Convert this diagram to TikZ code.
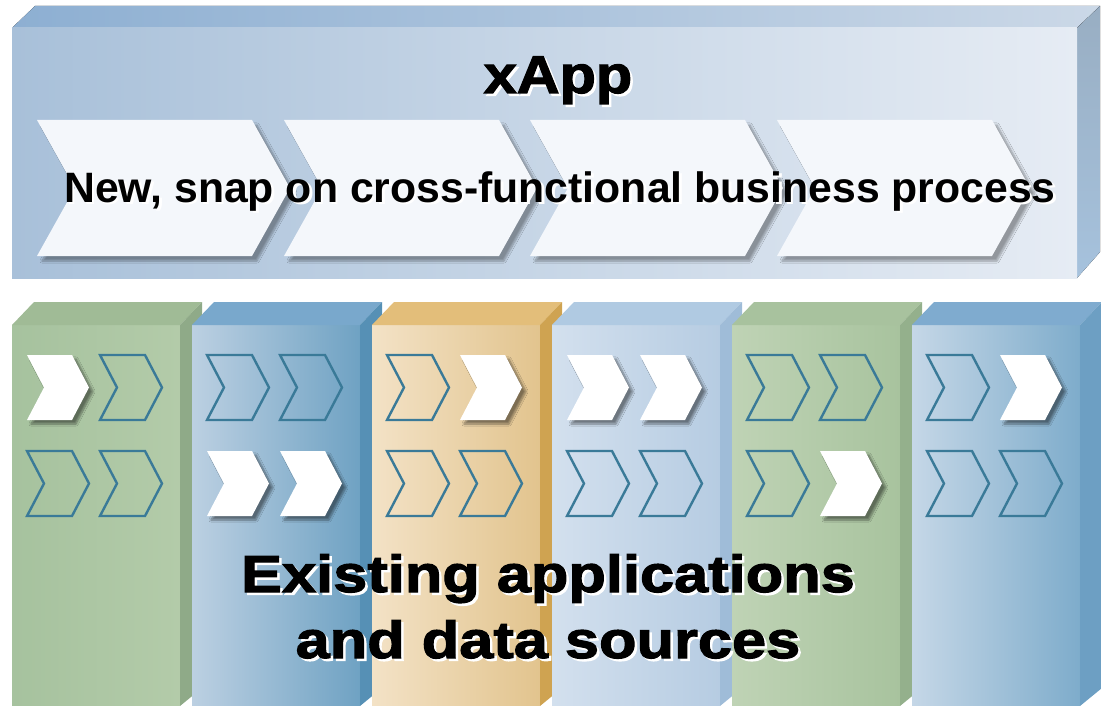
\documentclass[tikz,border=0pt]{standalone}
\usepackage{fontspec}
\setmainfont{Liberation Sans}
\newfontfamily\boldfont{Liberation Sans Bold}[FakeStretch=1.006]
\newfontfamily\heavyfont{Liberation Sans Bold}[FakeBold=2.2,FakeStretch=1.18]
\newfontfamily\heavyfontx{Liberation Sans Bold}[FakeBold=2.2,FakeStretch=1.12]
\usetikzlibrary{shadows.blur}
\definecolor{barL}{HTML}{A8C0D9}
\definecolor{barR}{HTML}{E6ECF4}
\definecolor{barTopL}{HTML}{8DAFD2}
\definecolor{barTopR}{HTML}{CBD8E7}
\definecolor{barSide}{HTML}{A6C2DD}
\definecolor{chevW}{HTML}{F4F7FB}
\definecolor{chevLine}{HTML}{3A7A98}
\definecolor{gFL}{HTML}{A6C29E}\definecolor{gFR}{HTML}{B3CBA9}\definecolor{gT}{HTML}{A0BB96}\definecolor{gS}{HTML}{8FAA88}
\definecolor{bFL}{HTML}{BCD0E2}\definecolor{bFR}{HTML}{6FA2C3}\definecolor{bT}{HTML}{79A8CC}\definecolor{bS}{HTML}{5690B5}
\definecolor{oFL}{HTML}{F3E2C6}\definecolor{oFR}{HTML}{E2C48E}\definecolor{oT}{HTML}{E3BE7A}\definecolor{oS}{HTML}{CFA351}
\definecolor{lFL}{HTML}{D3E0EE}\definecolor{lFR}{HTML}{B6CCE2}\definecolor{lT}{HTML}{B0CAE2}\definecolor{lS}{HTML}{9FBCD8}
\definecolor{hFL}{HTML}{BFD3B5}\definecolor{hFR}{HTML}{A8C39E}\definecolor{hT}{HTML}{A8C29E}\definecolor{hS}{HTML}{94B08C}
\definecolor{dFL}{HTML}{C5D7E7}\definecolor{dFR}{HTML}{7EACCB}\definecolor{dT}{HTML}{7FABCF}\definecolor{dS}{HTML}{6D9FC3}
\tikzset{
  wchev/.style={fill=white, blur shadow={shadow xshift=4pt, shadow yshift=-4pt, shadow blur steps=8, shadow opacity=45}},
  topchev/.style={fill=chevW, blur shadow={shadow xshift=5pt, shadow yshift=-5pt, shadow blur steps=8, shadow opacity=35}},
  ochev/.style={draw=chevLine, line width=2.4pt, line join=miter},
  lbl/.style={inner sep=0pt, anchor=base}
}
% x, y(top), height, top-right offset, tip offset, style
\newcommand\chev[6]{\path[#6] (#1,#2) -- ({#1+#4},#2) -- ({#1+#5},{#2+#3/2}) -- ({#1+#4},{#2+#3}) -- (#1,{#2+#3}) -- ({#1+#5-#4},{#2+#3/2}) -- cycle;}
\newcommand\cchev[3]{\ifnum#3=1 \chev{#1}{#2}{65}{45}{62}{wchev}\else\chev{#1}{#2}{65}{45}{62}{ochev}\fi}
\newcommand\shadowed[2]{{#1\rlap{\hspace{2.5pt}\raisebox{-2.5pt}{\color{white}#2}}#2}}
\begin{document}
\begin{tikzpicture}[x=1pt,y=-1pt]
\useasboundingbox (0,0) rectangle (1101,706);
\fill[white] (0,0) rectangle (1101,706);
% ---- top bar (xApp) ----
\fill[left color=barTopL, right color=barTopR] (12,28) -- (35,6) -- (1100,6) -- (1077,28) -- cycle;
\fill[top color=barSide!85!black!90, bottom color=barSide] (1077,28) -- (1100,6) -- (1100,252) -- (1077,278) -- cycle;
\fill[left color=barL, right color=barR] (12,28) rectangle (1077,278);
\foreach \x in {37,284,530,777} {\chev{\x}{120}{136}{215}{253}{topchev}}
% ---- columns ----
\foreach \i/\fl/\fr/\tp/\sd/\a/\b/\c/\d in {0/gFL/gFR/gT/gS/1/0/0/0, 1/bFL/bFR/bT/bS/0/0/1/1, 2/oFL/oFR/oT/oS/0/1/0/0, 3/lFL/lFR/lT/lS/1/1/0/0, 4/hFL/hFR/hT/hS/0/0/0/1, 5/dFL/dFR/dT/dS/0/1/0/0} {
  \pgfmathsetmacro\xo{12+180*\i}
  \fill[left color=\fl, right color=\fr] (\xo,325) rectangle ({\xo+168},706);
  \fill[\tp] (\xo,325) -- ({\xo+22},302) -- ({\xo+190},302) -- ({\xo+168},325) -- cycle;
  \fill[\sd] ({\xo+168},325) -- ({\xo+190},302) -- ({\xo+190},688) -- ({\xo+168},706) -- cycle;
  \cchev{\xo+15}{355}{\a}
  \cchev{\xo+88}{355}{\b}
  \cchev{\xo+15}{451}{\c}
  \cchev{\xo+88}{451}{\d}
}
% ---- texts ----
\node[lbl] (xapp) at (558,93) {\shadowed{\heavyfontx\fontsize{53}{60}\selectfont}{xApp}};
\node[lbl] (snap) at (560,202) {\shadowed{\boldfont\fontsize{42.5}{50}\selectfont}{New, snap on cross-functional business process}};
\node[lbl] (exist) at (548,592) {\shadowed{\heavyfont\fontsize{52}{60}\selectfont}{Existing applications}};
\node[lbl] (data) at (548,658) {\shadowed{\heavyfont\fontsize{52}{60}\selectfont}{and data sources}};
\end{tikzpicture}
\end{document}
